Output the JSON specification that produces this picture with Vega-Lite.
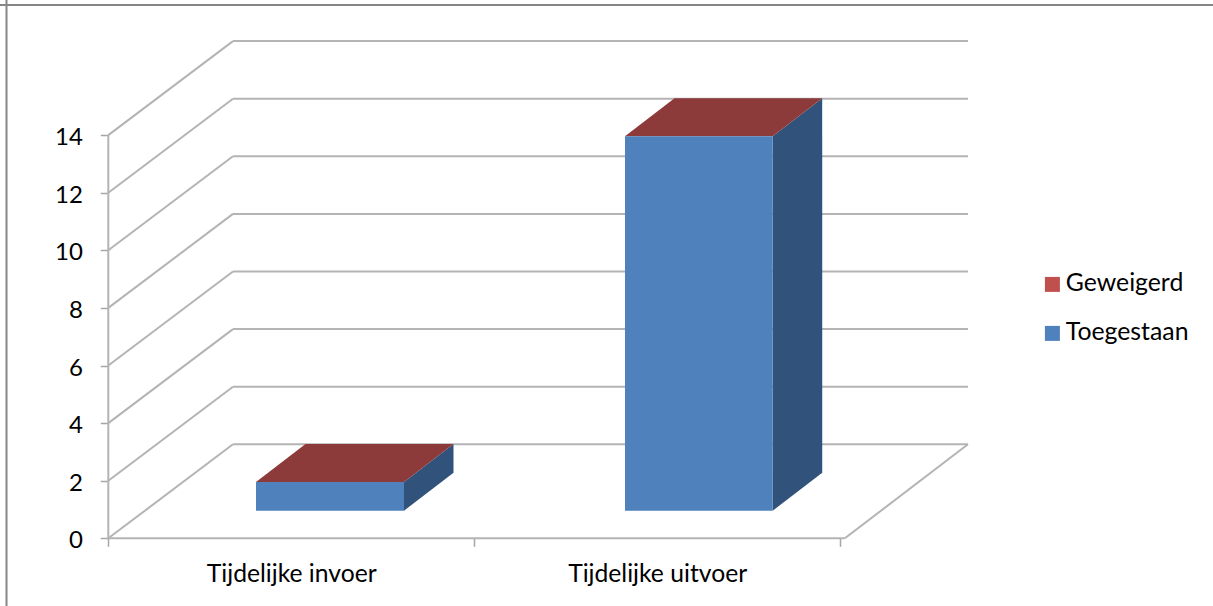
{
"$schema":"https://vega.github.io/schema/vega-lite/v6.json",
"width":1213,"height":606,"padding":0,"autosize":{"type":"none"},
"background":"white",
"config":{"view":{"stroke":null},"font":"Lato"},
"datasets":{
"frame":[{"left":-0.2782,"upper":18.517}],
"walls":[
{"x":0,"x2":0,"y":0,"y2":14},
{"x":0,"x2":2.013,"y":0,"y2":0},
{"x":2.013,"x2":2.3495,"y":0,"y2":3.264},
{"x":0,"x2":0.3408,"y":0,"y2":3.264},
{"x":0,"x2":0.3408,"y":2,"y2":5.264},
{"x":0,"x2":0.3408,"y":4,"y2":7.264},
{"x":0,"x2":0.3408,"y":6,"y2":9.264},
{"x":0,"x2":0.3408,"y":8,"y2":11.264},
{"x":0,"x2":0.3408,"y":10,"y2":13.264},
{"x":0,"x2":0.3408,"y":12,"y2":15.264},
{"x":0,"x2":0.3408,"y":14,"y2":17.264},
{"x":0.3408,"x2":2.3495,"y":3.264,"y2":3.264},
{"x":0.3408,"x2":2.3495,"y":5.264,"y2":5.264},
{"x":0.3408,"x2":2.3495,"y":7.264,"y2":7.264},
{"x":0.3408,"x2":2.3495,"y":9.264,"y2":9.264},
{"x":0.3408,"x2":2.3495,"y":11.264,"y2":11.264},
{"x":0.3408,"x2":2.3495,"y":13.264,"y2":13.264},
{"x":0.3408,"x2":2.3495,"y":15.264,"y2":15.264},
{"x":0.3408,"x2":2.3495,"y":17.264,"y2":17.264}
],
"front":[
{"category":"Tijdelijke invoer","series":"Toegestaan","value":1,"start":0.4037,"end":0.8081,"base":0.958,"top":1.958},
{"category":"Tijdelijke uitvoer","series":"Toegestaan","value":13,"start":1.4121,"end":1.8158,"base":0.958,"top":13.958},
{"category":"Tijdelijke invoer","series":"Geweigerd","value":0,"start":0.4037,"end":0.8081,"base":1.958,"top":1.958},
{"category":"Tijdelijke uitvoer","series":"Geweigerd","value":0,"start":1.4121,"end":1.8158,"base":13.958,"top":13.958}
],
"topFaces":[
{"category":"Tijdelijke invoer","series":"Geweigerd","level":1.958,"start":0.4037,"end":0.8081},
{"category":"Tijdelijke invoer","series":"Geweigerd","level":3.277,"start":0.539,"end":0.9434},
{"category":"Tijdelijke uitvoer","series":"Geweigerd","level":13.958,"start":1.4121,"end":1.8158},
{"category":"Tijdelijke uitvoer","series":"Geweigerd","level":15.277,"start":1.5474,"end":1.9511}
],
"sideFaces":[
{"category":"Tijdelijke invoer","series":"Toegestaan","pos":0.8081,"base":0.958,"top":1.958},
{"category":"Tijdelijke invoer","series":"Toegestaan","pos":0.9434,"base":2.277,"top":3.277},
{"category":"Tijdelijke uitvoer","series":"Toegestaan","pos":1.8158,"base":0.958,"top":13.958},
{"category":"Tijdelijke uitvoer","series":"Toegestaan","pos":1.9511,"base":2.277,"top":15.277}
]
},
"resolve":{"axis":{"x":"independent","y":"independent"}},
"layer":[
{"data":{"name":"walls"},
 "mark":{"type":"rule","color":"#B4B4B4","strokeWidth":2},
 "encoding":{
  "x":{"field":"x","type":"quantitative","scale":{"domain":[-0.29598,3.0191],"nice":false,"zero":false},
   "axis":{"title":null,"orient":"bottom","offset":-67.7,"domain":false,"grid":false,"values":[0,1,2],"labels":false,"tickSize":8,"tickColor":"#A6A6A6","tickWidth":1.5}},
  "x2":{"field":"x2"},
  "y":{"field":"y","type":"quantitative","scale":{"domain":[-2.3507,18.691],"nice":false,"zero":false},
   "axis":{"title":null,"orient":"left","offset":-108.3,"domain":false,"grid":false,"values":[0,2,4,6,8,10,12,14],"tickSize":8,"tickColor":"#A6A6A6","tickWidth":1.5,"labelFontSize":24,"labelColor":"#000000","labelPadding":18,"labelFont":"Lato","labelOffset":2.5}},
  "y2":{"field":"y2"}}},
{"data":{"name":"frame"},
 "mark":{"type":"rule","color":"#868686","strokeWidth":2},
 "encoding":{"x":{"field":"left","type":"quantitative","scale":{"domain":[-0.29598,3.0191],"nice":false,"zero":false},
   "axis":{"title":null,"orient":"bottom","offset":-67.7,"domain":false,"grid":false,"ticks":false,"values":[0.5,1.5],"labelExpr":"datum.value<1?'Tijdelijke invoer':'Tijdelijke uitvoer'","labelFontSize":24.7,"labelColor":"#000000","labelPadding":23,"labelFont":"Lato"}}}},
{"data":{"name":"frame"},
 "mark":{"type":"rule","color":"#868686","strokeWidth":2},
 "encoding":{"y":{"field":"upper","type":"quantitative","scale":{"domain":[-2.3507,18.691],"nice":false,"zero":false},"axis":null}}},
{"data":{"name":"sideFaces"},
 "mark":{"type":"area","color":"#31527A","orient":"vertical"},
 "encoding":{
  "detail":{"field":"category"},
  "x":{"field":"pos","type":"quantitative","scale":{"domain":[-0.29598,3.0191],"nice":false,"zero":false},"axis":null},
  "y":{"field":"top","type":"quantitative","scale":{"domain":[-2.3507,18.691],"nice":false,"zero":false},"axis":null},
  "y2":{"field":"base"}}},
{"data":{"name":"topFaces"},
 "mark":{"type":"area","color":"#8C3B3A","orient":"horizontal"},
 "encoding":{
  "detail":{"field":"category"},
  "y":{"field":"level","type":"quantitative","scale":{"domain":[-2.3507,18.691],"nice":false,"zero":false},"axis":null},
  "x":{"field":"start","type":"quantitative","scale":{"domain":[-0.29598,3.0191],"nice":false,"zero":false},"axis":null},
  "x2":{"field":"end"}}},
{"data":{"name":"front"},
 "mark":{"type":"rect"},
 "encoding":{
  "x":{"field":"start","type":"quantitative","scale":{"domain":[-0.29598,3.0191],"nice":false,"zero":false},"axis":null},
  "x2":{"field":"end"},
  "y":{"field":"base","type":"quantitative","scale":{"domain":[-2.3507,18.691],"nice":false,"zero":false},"axis":null},
  "y2":{"field":"top"},
  "color":{"field":"series","type":"nominal","scale":{"domain":["Geweigerd","Toegestaan"],"range":["#C0504D","#4F81BD"]},
   "legend":{"title":null,"orient":"none","legendX":1040,"legendY":272,"symbolType":"square","symbolSize":225,"symbolStrokeWidth":0,"symbolOpacity":1,"labelFontSize":24.8,"labelColor":"#000000","labelFont":"Lato","labelOffset":1,"rowPadding":23,"padding":0}}}}
]
}
